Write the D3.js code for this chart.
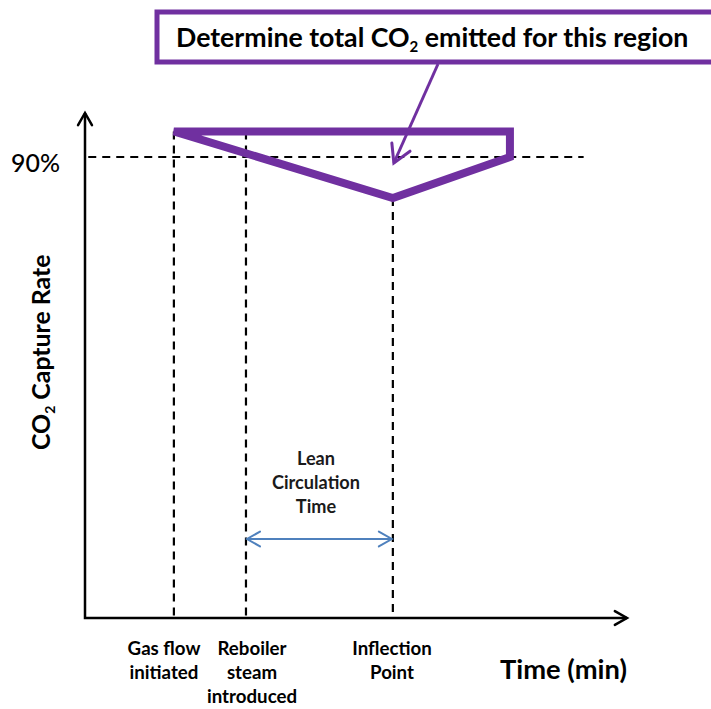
<!DOCTYPE html>
<html>
<head>
<meta charset="utf-8">
<script src="https://cdn.jsdelivr.net/npm/d3@7"></script>
<style>
  html, body { margin: 0; padding: 0; background: #fff; }
  svg text { font-family: Lato, "Open Sans", sans-serif; fill: #000; }
</style>
</head>
<body>
<svg id="chart" width="711" height="709"></svg>
<script>
// ---------- data ----------
const eventLabels = [["Gas flow", "initiated"], ["Reboiler", "steam", "introduced"], ["Inflection", "Point"]];
const eventTimes = [16.4, 29.7, 56.8];          // minutes (schematic)
const captureTimes = [16.4, 56.8, 78.4, 78.4];   // outline of region
const captureValues = [95, 82, 90, 95];          // % capture
const targetLabel = "90%";
const targetValue = 90;
const targetEndTime = 92;
const leanLabel = ["Lean", "Circulation", "Time"];
const calloutText = ["Determine total CO", "2", " emitted for this region"];
const xTitle = "Time (min)";
const yTitle = ["CO", "2", " Capture Rate"];

// ---------- layout ----------
const svg = d3.select("#chart");
const x = d3.scaleLinear().domain([0, 100]).range([85, 627]);
const y = d3.scaleLinear().domain([0, 100]).range([618, 105.8]);
const purple = "#7030A0";
const blue = "#4F81BD";

function fitSize(sel, w) {
  const bw = sel.node().getBBox().width;
  const fs = parseFloat(sel.attr("font-size"));
  return fs * w / bw;
}
function fit(sel, w) { sel.attr("font-size", fitSize(sel, w)); }
function chevron(g, tx, ty, angle, len, color, width) {
  const a1 = angle + Math.PI - 0.52, a2 = angle + Math.PI + 0.52;
  g.append("path")
    .attr("d", `M${tx + len * Math.cos(a1)},${ty + len * Math.sin(a1)}L${tx},${ty}L${tx + len * Math.cos(a2)},${ty + len * Math.sin(a2)}`)
    .attr("fill", "none").attr("stroke", color).attr("stroke-width", width)
    .attr("stroke-linecap", "round").attr("stroke-linejoin", "miter");
}

// dashed guides
const dash = "8,6";
svg.append("line")
  .attr("x1", x(0.6)).attr("x2", x(targetEndTime))
  .attr("y1", y(targetValue)).attr("y2", y(targetValue))
  .attr("stroke", "#000").attr("stroke-width", 2.2).attr("stroke-dasharray", dash);

const vEnd = [captureValues[0], captureValues[0], captureValues[1]];
eventTimes.forEach((t, i) => {
  svg.append("line")
    .attr("x1", x(t)).attr("x2", x(t))
    .attr("y1", y(vEnd[i])).attr("y2", y(0))
    .attr("stroke", "#000").attr("stroke-width", 2.2).attr("stroke-dasharray", dash);
});

// axes
const axes = svg.append("g");
axes.append("path")
  .attr("d", `M${x(0)},${y(98.6)}L${x(0)},${y(0)}L${x(100)},${y(0)}`)
  .attr("fill", "none").attr("stroke", "#000").attr("stroke-width", 2.5);
chevron(axes, x(0), y(98.6), -Math.PI / 2, 14, "#000", 2.5);
chevron(axes, x(100), y(0), 0, 14, "#000", 2.5);

// purple region
const pts = captureTimes.map((t, i) => [x(t), y(captureValues[i])]);
pts.unshift([x(captureTimes[0]), y(captureValues[3])]);
svg.append("path")
  .attr("d", d3.line()(pts) + "Z")
  .attr("fill", "none").attr("stroke", purple).attr("stroke-width", 8)
  .attr("stroke-linejoin", "miter");

// lean circulation arrow
const la = svg.append("g");
const ay = 539;
la.append("line").attr("x1", x(eventTimes[1]) + 1).attr("x2", x(eventTimes[2]) - 1)
  .attr("y1", ay).attr("y2", ay).attr("stroke", blue).attr("stroke-width", 2);
chevron(la, x(eventTimes[1]) + 1, ay, Math.PI, 15, blue, 2);
chevron(la, x(eventTimes[2]) - 1, ay, 0, 15, blue, 2);
const lx = 316;
const leanTexts = leanLabel.map((s, i) =>
  svg.append("text").attr("x", lx).attr("y", 465 + i * 24)
    .attr("text-anchor", "middle").attr("font-weight", "bold").attr("font-size", 16)
    .style("fill", "#1a1a1a").text(s));
const leanSize = fitSize(leanTexts[1], 88);
leanTexts.forEach(t => t.attr("font-size", leanSize));

// event labels
const labelCenters = [164, 252, 392];
const evTexts = [];
eventLabels.forEach((lines, i) => {
  lines.forEach((s, j) => {
    evTexts.push(svg.append("text").attr("x", labelCenters[i]).attr("y", 655 + j * 24)
      .attr("text-anchor", "middle").attr("font-weight", "bold").attr("font-size", 16)
      .text(s));
  });
});
const evSize = fitSize(evTexts[0], 73);
evTexts.forEach(t => t.attr("font-size", evSize));

// axis titles
const xt = svg.append("text").attr("x", 500).attr("y", 679)
  .attr("font-weight", "bold").attr("font-size", 24).text(xTitle);
fit(xt, 127);

const yt = svg.append("text").attr("transform", "translate(50,450) rotate(-90)")
  .attr("font-weight", "bold").attr("font-size", 21);
yt.append("tspan").text(yTitle[0]);
yt.append("tspan").attr("dy", 5).attr("font-size", 14).text(yTitle[1]);
yt.append("tspan").attr("dy", -5).text(yTitle[2]);
fit(yt, 197);

// 90% label
const tl = svg.append("text").attr("x", 11).attr("y", 172)
  .attr("font-size", 25).attr("font-weight", 500).text(targetLabel);
fit(tl, 49);

// callout
const co = svg.append("g");
co.append("rect").attr("x", 157).attr("y", 12).attr("width", 600).attr("height", 50)
  .attr("fill", "#fff").attr("stroke", purple).attr("stroke-width", 5);
const tipX = x(56.8) + 1, tipY = 163;
co.append("line").attr("x1", 438).attr("y1", 64).attr("x2", tipX).attr("y2", tipY)
  .attr("stroke", purple).attr("stroke-width", 3);
chevron(co, tipX, tipY, Math.atan2(tipY - 64, tipX - 438), 20, purple, 3);

const ct = co.append("text").attr("x", 176).attr("y", 47)
  .attr("font-weight", "bold").attr("font-size", 23);
ct.append("tspan").text(calloutText[0]);
ct.append("tspan").attr("dy", 5).attr("font-size", 15).text(calloutText[1]);
ct.append("tspan").attr("dy", -5).text(calloutText[2]);
fit(ct, 514);
</script>
</body>
</html>
